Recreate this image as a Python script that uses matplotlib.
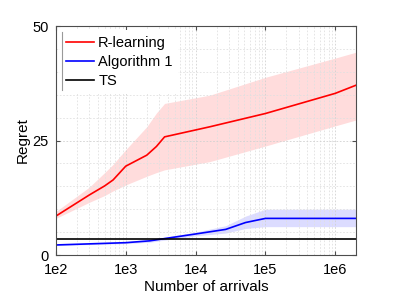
import matplotlib.pyplot as plt
import numpy as np
from matplotlib.ticker import FixedLocator, NullFormatter
from matplotlib.lines import Line2D

plt.rcParams['font.family'] = ['Liberation Sans', 'DejaVu Sans']

# R-learning
r_x = [1e2, 3e2, 5e2, 6.6e2, 1e3, 2e3, 2.75e3, 3.6e3, 1.6e4, 1e5, 1e6, 2e6]
r_mean = [8.5, 13.1, 15.1, 16.4, 19.4, 21.8, 23.7, 25.8, 28.0, 30.9, 35.3, 37.1]
r_up = [9.5, 14.8, 18.0, 19.8, 23.0, 28.0, 31.0, 33.1, 34.9, 38.8, 43.0, 44.3]
r_lo = [8.0, 11.5, 13.0, 14.0, 15.3, 17.2, 18.0, 18.6, 20.4, 23.8, 28.2, 29.5]

# Algorithm 1
a_x = [1e2, 1e3, 2.2e3, 1e4, 2.7e4, 5.2e4, 1e5, 2e6]
a_mean = [2.2, 2.7, 3.1, 4.6, 5.6, 7.1, 8.0, 8.0]
a_up = [2.3, 2.9, 3.4, 5.0, 6.4, 8.5, 10.0, 10.0]
a_lo = [2.1, 2.5, 2.8, 4.2, 4.8, 5.8, 6.2, 6.2]

# TS
ts_val = 3.5

fig, ax = plt.subplots(figsize=(3.99, 2.99), dpi=100)
fig.subplots_adjust(left=0.14, right=0.893, top=0.913, bottom=0.147)

ax.fill_between(r_x, r_lo, r_up, color='#ffdcdc', lw=0)
ax.fill_between(a_x, a_lo, a_up, color='#dcdcff', lw=0)
ax.plot(r_x, r_mean, color='red', lw=1.2, label='R-learning')
ax.plot(a_x, a_mean, color='blue', lw=1.2, label='Algorithm 1')
ax.axhline(ts_val, color='black', lw=1.2, label='TS')

ax.set_xscale('log')
ax.set_xlim(1e2, 2e6)
ax.set_ylim(0, 50)
ax.set_xticks([1e2, 1e3, 1e4, 1e5, 1e6])
ax.set_xticklabels(['1e2', '1e3', '1e4', '1e5', '1e6'])
ax.set_yticks([0, 25, 50])
ax.yaxis.set_minor_locator(FixedLocator(np.arange(5, 50, 5)))
ax.xaxis.set_minor_formatter(NullFormatter())
ax.tick_params(which='both', direction='in', top=True, right=True,
               labelsize=10.5, color='0.3', length=3)
ax.tick_params(axis='x', pad=6)
ax.tick_params(axis='y', pad=5)
ax.tick_params(which='minor', length=0)
ax.grid(True, which='major', ls=(0, (2, 2)), color='0.82', lw=0.6)
ax.grid(True, which='minor', ls=(0, (2, 2)), color='0.88', lw=0.6)
for s in ax.spines.values():
    s.set_color('0.3')
    s.set_linewidth(0.8)

ax.set_xlabel('Number of arrivals', fontsize=11, labelpad=2)
ax.set_ylabel('Regret', fontsize=11, labelpad=2)

leg = ax.legend(loc='upper left', fontsize=10.5, frameon=True, fancybox=False,
                handlelength=1.9, handletextpad=0.3, borderpad=0.4,
                labelspacing=0.35, borderaxespad=0.3)
leg.get_frame().set_edgecolor('none')
leg.get_frame().set_facecolor('white')
leg.get_frame().set_alpha(1)
ax.add_line(Line2D([0.02, 0.02], [0.72, 0.975], transform=ax.transAxes,
                   color='0.6', lw=0.8, zorder=10))

plt.savefig('out.png', dpi=100)
